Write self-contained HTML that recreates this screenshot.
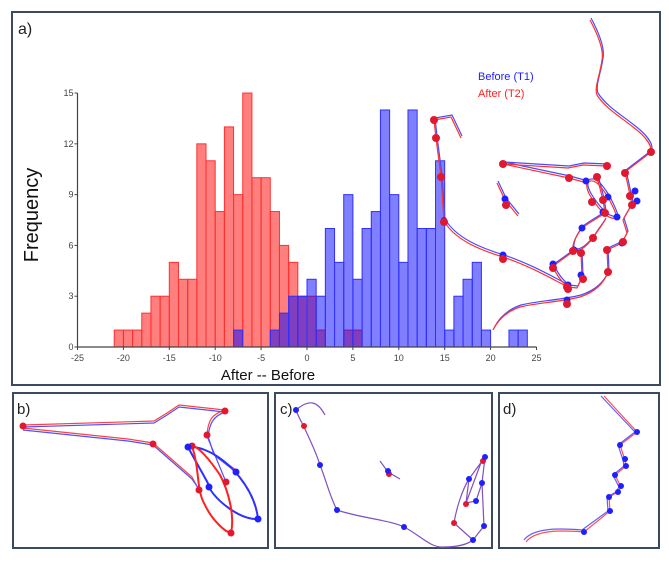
<!DOCTYPE html>
<html><head><meta charset="utf-8"><style>
body{margin:0;background:#fff;}
svg{display:block;font-family:"Liberation Sans",sans-serif;}
</style></head><body>
<svg id="fig" width="669" height="562" viewBox="0 0 669 562">
<defs>
<g id="faceA">
<path d="M590,20 C598,35 604,50 602,60 C600,75 594,88 597,95 C605,108 622,118 633,127 C645,136 652,145 651,152 L625,172 L630,195 L632,204 L623,220 L627,233 L622,243 L607,250 L608,272 C604,283 595,292 580,297 C560,302 535,303 520,307 C505,312 497,322 493,330"/>
<path d="M434,120 L451,117 L461,138 M434,120 L436,138 L441,177 L444,221 C455,240 480,250 503,257 C530,266 552,279 568,287 L577,288 L582,277 L581,253 L574,251 L553,266 C556,275 562,282 568,287"/>
<path d="M503,164 L568,168 L583,165 L607,166 M503,164 L569,178 L587,183"/>
<path d="M497,183 L505,200 L518,216"/>
<path d="M587,182 C595,178 600,185 608,197 C612,205 616,212 617,218 C610,220 604,214 598,207 C592,199 585,190 587,182 Z M597,177 L603,200 L605,213"/>
<path d="M605,213 C598,218 590,222 582,228 C576,236 572,244 573,250 C578,253 585,248 593,238 C598,230 603,224 605,220"/>
</g>
</defs>
<rect x="12" y="12" width="648" height="373" fill="none" stroke="#3a4a60" stroke-width="2"/>
<rect x="13" y="393" width="255" height="155" fill="none" stroke="#3a4a60" stroke-width="2"/>
<rect x="275" y="393" width="217" height="155" fill="none" stroke="#3a4a60" stroke-width="2"/>
<rect x="499" y="393" width="160" height="155" fill="none" stroke="#3a4a60" stroke-width="2"/>
<text x="18" y="34" font-size="16" fill="#222">a)</text>
<text x="17" y="414" font-size="15" fill="#222">b)</text>
<text x="280" y="414" font-size="15" fill="#222">c)</text>
<text x="503" y="414" font-size="15" fill="#222">d)</text>
<text transform="translate(38,215) rotate(-90)" font-size="20" text-anchor="middle" fill="#111">Frequency</text>
<text x="268" y="380" font-size="15" text-anchor="middle" fill="#111">After -- Before</text>
<text x="478" y="80" font-size="11" fill="#2020ff">Before (T1)</text>
<text x="478" y="97" font-size="11" fill="#ff2020">After (T2)</text>
<g id="hist"></g>

<g fill="none" stroke-width="1.2">
<use href="#faceA" stroke="#4a4aff" transform="translate(1,-2)"/>
<use href="#faceA" stroke="#ff3030"/>
<g fill="#2020ff" stroke="none">
<circle cx="505" cy="199" r="3.5"/><circle cx="503" cy="255" r="3.5"/><circle cx="568" cy="285" r="3.5"/><circle cx="567" cy="300" r="3.5"/><circle cx="635" cy="191" r="3.5"/><circle cx="637" cy="201" r="3.5"/><circle cx="586" cy="181" r="3.5"/><circle cx="608" cy="197" r="3.5"/><circle cx="603" cy="212" r="3.5"/><circle cx="617" cy="217" r="3.5"/><circle cx="582" cy="228" r="3.5"/><circle cx="553" cy="264" r="3.5"/><circle cx="581" cy="275" r="3.5"/><circle cx="622" cy="243" r="3.5"/><circle cx="574" cy="250" r="3.5"/><circle cx="444" cy="220" r="3"/>
</g>
<g fill="#e01830" stroke="none">
<circle cx="434" cy="120" r="4"/><circle cx="436" cy="138" r="4"/><circle cx="441" cy="177" r="4"/><circle cx="444" cy="222" r="4"/><circle cx="503" cy="259" r="4"/><circle cx="568" cy="289" r="4"/><circle cx="567" cy="304" r="4"/><circle cx="608" cy="272" r="4"/><circle cx="651" cy="152" r="4"/><circle cx="625" cy="173" r="4"/><circle cx="630" cy="196" r="4"/><circle cx="632" cy="205" r="4"/><circle cx="503" cy="164" r="4"/><circle cx="607" cy="166" r="4"/><circle cx="569" cy="178" r="4"/><circle cx="506" cy="205" r="4"/><circle cx="597" cy="177" r="4"/><circle cx="592" cy="202" r="4"/><circle cx="603" cy="200" r="4"/><circle cx="605" cy="213" r="4"/><circle cx="623" cy="242" r="4"/><circle cx="607" cy="250" r="4"/><circle cx="593" cy="238" r="4"/><circle cx="573" cy="251" r="4"/><circle cx="581" cy="253" r="4"/><circle cx="553" cy="268" r="4"/><circle cx="583" cy="279" r="4"/><circle cx="567" cy="287" r="4"/>
</g>
</g>

<g fill="none" stroke-width="1.2">
<path stroke="#ff4040" d="M23,425 L154,421 L167,413 L179,405 L225,410 C212,414 208,420 207,435 L214,454 L236,470 M23,428 L128,439 L153,443 L192,477 L199,490"/>
<path stroke="#5050ff" d="M23,427 L154,423 L167,415 L179,407 L225,412 C214,416 210,422 208,436 L214,455 L236,472 M23,430 L128,441 L153,445 L192,479 L199,489 M207,436 L226,482"/>
<path stroke="#3030ff" stroke-width="2" d="M188,447 C200,470 210,485 209,487 C215,500 240,520 258,519 C255,490 230,460 205,450 C195,446 188,447 188,447 Z"/>
<path stroke="#ff2020" stroke-width="2" d="M192,446 C200,470 196,490 205,505 C212,520 225,532 231,533 C235,515 228,490 220,475 C210,460 198,446 192,446 Z"/>
<g fill="#e01830" stroke="none"><circle cx="23" cy="426" r="3.5"/><circle cx="225" cy="411" r="3.5"/><circle cx="207" cy="435" r="3.5"/><circle cx="153" cy="444" r="3.5"/><circle cx="192" cy="446" r="3.5"/><circle cx="226" cy="482" r="3.5"/><circle cx="199" cy="490" r="3.5"/><circle cx="231" cy="533" r="3.5"/></g>
<g fill="#2020ff" stroke="none"><circle cx="188" cy="447" r="3.5"/><circle cx="236" cy="472" r="3.5"/><circle cx="209" cy="487" r="3.5"/><circle cx="258" cy="519" r="3.5"/></g>
</g>

<g fill="none" stroke="#8050c0" stroke-width="1.2">
<path d="M325,415 C318,402 310,398 296,410 C298,416 301,421 304,427 C310,440 316,452 320,465 C326,480 330,497 337,510 C360,518 390,520 404,527 C420,535 430,548 444,547 C458,547 468,544 473,540 L484,526 L482,483 L485,457 L469,479 L466,503 L476,501 L482,483 M473,540 L454,523 C456,510 462,490 469,479 M482,460 L466,503"/>
<path d="M380,461 L388,472 L400,479"/>
<g fill="#e01830" stroke="none"><circle cx="304" cy="426" r="3"/><circle cx="483" cy="461" r="3"/><circle cx="466" cy="504" r="3"/><circle cx="454" cy="523" r="3"/><circle cx="389" cy="474" r="3"/></g>
<g fill="#2020ff" stroke="none"><circle cx="296" cy="410" r="3"/><circle cx="320" cy="465" r="3"/><circle cx="337" cy="510" r="3"/><circle cx="404" cy="527" r="3"/><circle cx="473" cy="540" r="3"/><circle cx="484" cy="526" r="3"/><circle cx="485" cy="457" r="3"/><circle cx="469" cy="479" r="3"/><circle cx="482" cy="483" r="3"/><circle cx="476" cy="501" r="3"/><circle cx="388" cy="471" r="3"/></g>
</g>

<g fill="none" stroke-width="1.2">
<path stroke="#ff5050" d="M604,396 L637,432 L620,445 L625,460 L626,466 L615,475 L621,487 L618,492 L609,497 L610,511 L584,532 C560,530 535,530 526,542"/>
<path stroke="#6060ff" d="M601,396 L635,432 L618,445 L623,460 L624,466 L613,475 L619,487 L616,492 L607,497 L608,511 L582,530 C558,528 533,528 524,540"/>
<g fill="#2020ff" stroke="none"><circle cx="637" cy="432" r="3"/><circle cx="620" cy="445" r="3"/><circle cx="625" cy="459" r="3"/><circle cx="626" cy="466" r="3"/><circle cx="615" cy="475" r="3"/><circle cx="621" cy="486" r="3"/><circle cx="618" cy="492" r="3"/><circle cx="609" cy="497" r="3"/><circle cx="610" cy="511" r="3"/><circle cx="584" cy="532" r="3"/></g>
</g>
</svg>
<script>
const binStarts = [-21,-20,-19,-18,-17,-16,-15,-14,-13,-12,-11,-10,-9,-8,-7,-6,-5,-4,-3,-2,-1,0,1,2,3,4,5,6,7,8,9,10,11,12,13,14,15,16,17,18,19,20,21,22,23];
const afterCounts = [1,1,1,2,3,3,5,4,4,12,11,8,13,9,15,10,10,8,6,5,3,3,1,0,0,1,1,0,0,0,0,0,0,0,0,0,0,0,0,0,0,0,0,0,0];
const beforeCounts = [0,0,0,0,0,0,0,0,0,0,0,0,0,1,0,0,0,1,2,3,3,4,3,7,5,9,4,7,8,14,9,5,14,7,7,11,1,3,4,5,1,0,0,1,1];
const xTicks = [-25,-20,-15,-10,-5,0,5,10,15,20,25];
const yTicks = [0,3,6,9,12,15];
const NS = "http://www.w3.org/2000/svg";
const xs = v => 307 + v * 9.18;
const ys = c => 347 - c * 16.93;
const g = document.getElementById('hist');
function mk(tag, attrs){const e=document.createElementNS(NS,tag);for(const k in attrs)e.setAttribute(k,attrs[k]);g.appendChild(e);return e;}
function bars(counts, fill, stroke, name){
  counts.forEach((c,i)=>{
    if(!c) return;
    const r = mk('rect',{x:xs(binStarts[i]),y:ys(c),width:xs(binStarts[i]+1)-xs(binStarts[i]),height:ys(0)-ys(c),fill:fill,stroke:stroke,'stroke-width':1});
    
    
  });
}
bars(afterCounts,'rgba(255,0,0,0.5)','#ff3030','bar-after');
bars(beforeCounts,'rgba(0,0,255,0.5)','#3030ff','bar-before');
const ax = mk('line',{x1:xs(-25),y1:ys(0),x2:xs(25),y2:ys(0),stroke:'#444','stroke-width':1.2});


const ay = mk('line',{x1:xs(-25),y1:ys(0),x2:xs(-25),y2:ys(15),stroke:'#444','stroke-width':1.2});


xTicks.forEach(t=>{
  mk('line',{x1:xs(t),y1:ys(0),x2:xs(t),y2:ys(0)+3,stroke:'#444'});
  const tx = mk('text',{x:xs(t),y:ys(0)+14,'font-size':9,'text-anchor':'middle',fill:'#444'});
  tx.textContent = t;
  
  
});
yTicks.forEach(t=>{
  mk('line',{x1:xs(-25)-3,y1:ys(t),x2:xs(-25),y2:ys(t),stroke:'#444'});
  const tx = mk('text',{x:xs(-25)-4,y:ys(t)+3,'font-size':9,'text-anchor':'end',fill:'#444'});
  tx.textContent = t;
  
  
});
</script>
</body></html>
